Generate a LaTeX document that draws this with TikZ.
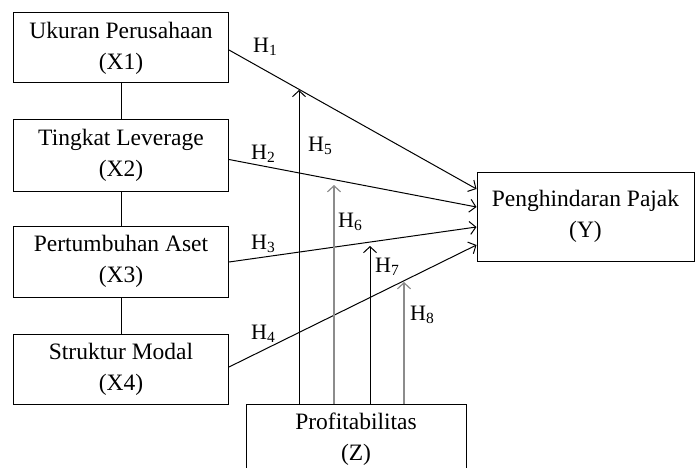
\documentclass[tikz,border=0pt]{standalone}
\usepackage{fontspec}
\setmainfont{Liberation Serif}
\usetikzlibrary{arrows.meta,calc}
\newcommand{\hsub}[1]{H\raisebox{-2.5pt}{\fontsize{15.5}{15.5}\selectfont #1}}
\begin{document}
\begin{tikzpicture}[x=1pt,y=-1pt,
 box/.style={draw,line width=1pt,minimum width=215pt,minimum height=70pt,align=center,font=\fontsize{23.5}{31}\selectfont,inner sep=0pt},
 conn/.style={line width=1pt},
 arr/.style={line width=1pt,-{Straight Barb[length=6pt,width=13pt]}},
 grayarr/.style={arr,draw=black!45,line width=1.2pt},
 lab/.style={font=\fontsize{22}{22}\selectfont,inner sep=0pt}]
\useasboundingbox (0,0) rectangle (696,468);
\clip (0,0) rectangle (696,468);
\node[box] (x1) at (121,48) {Ukuran Perusahaan\\(X1)};
\node[box,minimum height=71pt] (x2) at (121,155.5) {Tingkat Leverage\\(X2)};
\node[box,minimum height=71pt] (x3) at (121,261.5) {Pertumbuhan Aset\\(X3)};
\node[box] (x4) at (121,369) {Struktur Modal\\(X4)};
\node[box,minimum width=217pt,minimum height=89pt] (y) at (585.5,216.5) {Penghindaran Pajak\\(Y)};
\node[box,minimum width=220pt] (z) at (356,439) {Profitabilitas\\(Z)};
\draw[conn] (x1) -- (x2);
\draw[conn] (x2) -- (x3);
\draw[conn] (x3) -- (x4);
\draw[arr] ($(x1.east)+(0,2)$) -- ($(y.west)+(0,-27.5)$);
\draw[arr] ($(x2.east)+(0,4)$) -- ($(y.west)+(0,-9.5)$);
\draw[arr] ($(x3.east)+(0,0.5)$) -- ($(y.west)+(0,10.5)$);
\draw[arr] ($(x4.east)+(0,-2)$) -- ($(y.west)+(0,28.5)$);
\coordinate (h5e) at (299,90);
\coordinate (h6e) at (334,185);
\coordinate (h7e) at (370,246);
\coordinate (h8e) at (404,282);
\draw[arr] (z.north -| h5e) -- (h5e);
\draw[grayarr] (z.north -| h6e) -- (h6e);
\draw[arr] (z.north -| h7e) -- (h7e);
\draw[grayarr] (z.north -| h8e) -- (h8e);
\node[lab] (l1) at (265,47) {\hsub{1}};
\node[lab] (l2) at (263,154) {\hsub{2}};
\node[lab] (l3) at (263,244) {\hsub{3}};
\node[lab] (l4) at (263,334) {\hsub{4}};
\node[lab] (l5) at (320,146) {\hsub{5}};
\node[lab] (l6) at (350,222) {\hsub{6}};
\node[lab] (l7) at (387,267) {\hsub{7}};
\node[lab] (l8) at (422,315) {\hsub{8}};
\end{tikzpicture}
\end{document}
